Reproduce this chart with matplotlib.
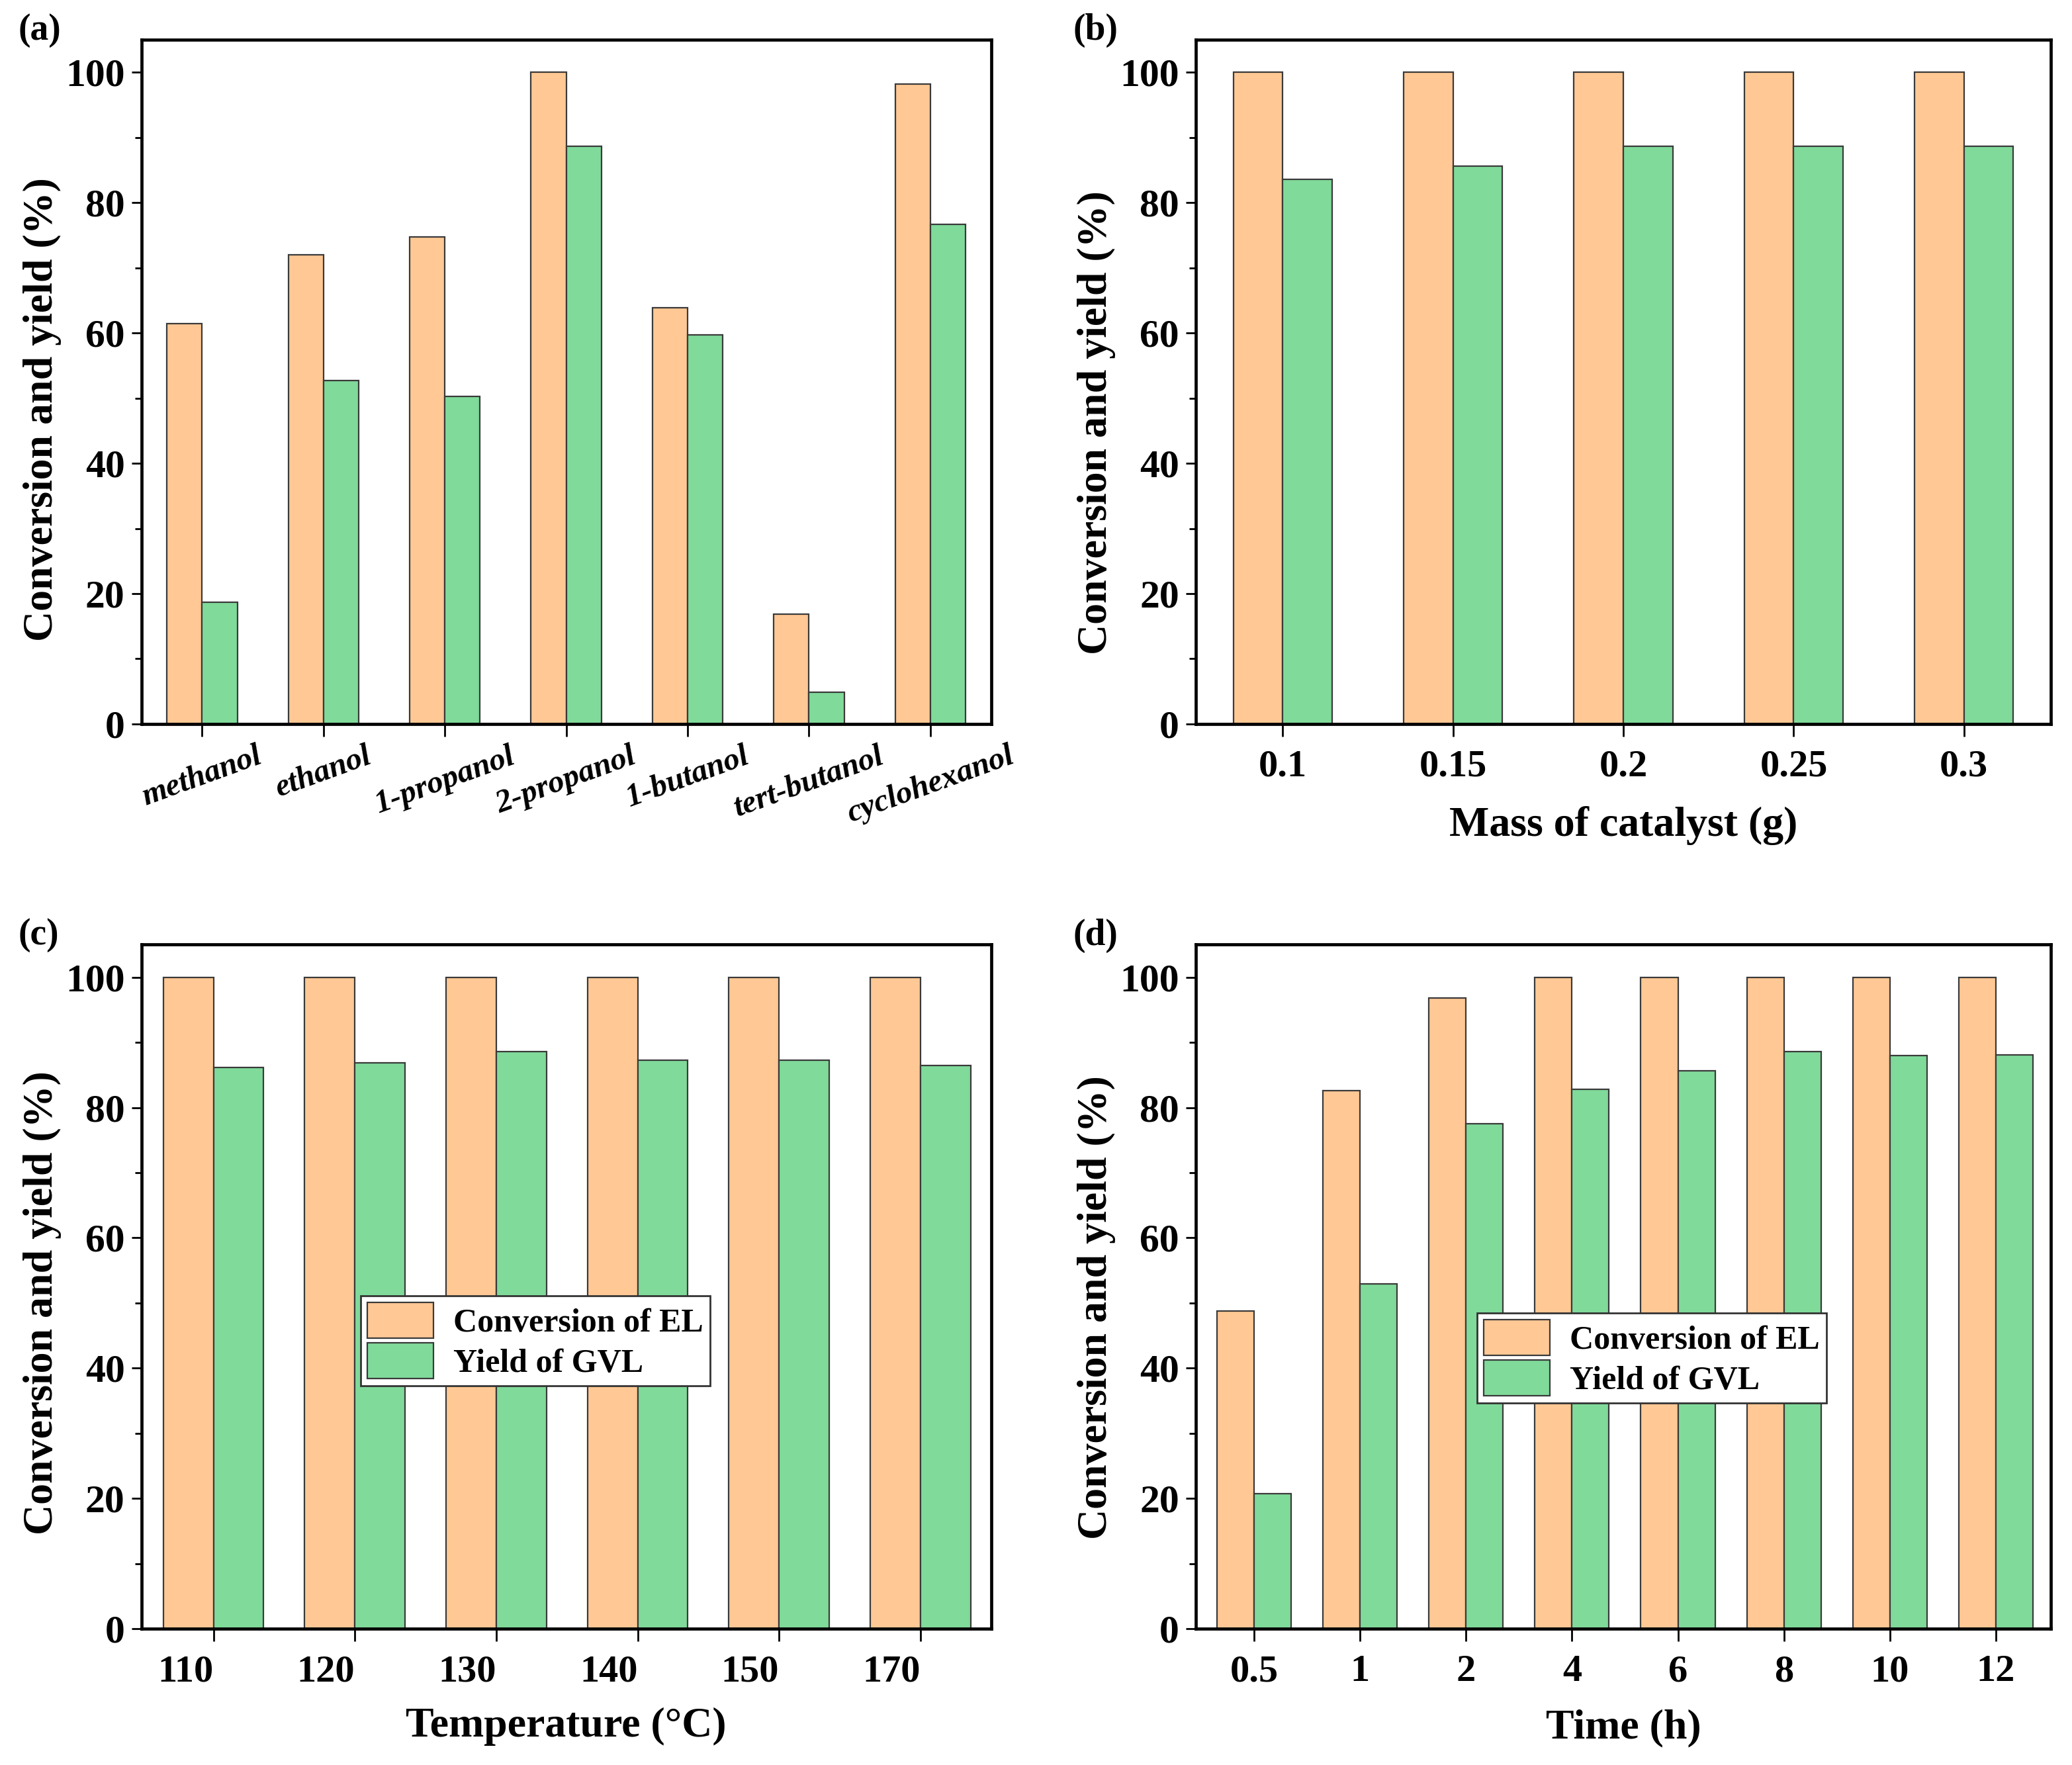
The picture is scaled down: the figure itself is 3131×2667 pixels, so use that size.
import matplotlib
matplotlib.use("Agg")
import matplotlib.pyplot as plt
from matplotlib.ticker import MultipleLocator
import numpy as np

plt.rcParams['font.family'] = ['Liberation Serif', 'DejaVu Serif']
plt.rcParams['font.weight'] = 'bold'

ORANGE = '#FFC894'
GREEN = '#80DA9A'
EDGE = '#3a3a3a'

# (a) solvent
solvents = ['methanol', 'ethanol', '1-propanol', '2-propanol', '1-butanol', 'tert-butanol', 'cyclohexanol']
conv_a = [61.4, 72.0, 74.7, 100.0, 63.9, 16.9, 98.2]
yield_a = [18.7, 52.7, 50.3, 88.6, 59.7, 4.9, 76.7]

# (b) mass of catalyst
masses = ['0.1', '0.15', '0.2', '0.25', '0.3']
conv_b = [100.0, 100.0, 100.0, 100.0, 100.0]
yield_b = [83.6, 85.6, 88.6, 88.6, 88.6]

# (c) temperature
temps = ['110', '120', '130', '140', '150', '170']
conv_c = [100.0, 100.0, 100.0, 100.0, 100.0, 100.0]
yield_c = [86.1, 86.9, 88.6, 87.3, 87.3, 86.5]

# (d) time
times = ['0.5', '1', '2', '4', '6', '8', '10', '12']
conv_d = [48.8, 82.6, 96.8, 100.0, 100.0, 100.0, 100.0, 100.0]
yield_d = [20.8, 52.9, 77.5, 82.8, 85.6, 88.6, 88.0, 88.1]

fig = plt.figure(figsize=(31.31, 26.67), dpi=100)

W, H = 1568.0, 1336.0
def box(l, r, t, b):
    return [l / W, 1 - b / H, (r - l) / W, (b - t) / H]

ax_a = fig.add_axes(box(107, 750, 30, 548))
ax_b = fig.add_axes(box(905, 1552, 30, 548))
ax_c = fig.add_axes(box(107, 750, 715, 1233))
ax_d = fig.add_axes(box(905, 1552, 715, 1233))


def draw(ax, labels, conv, yld, width, xlim, ylab_y=0.5):
    x = np.arange(len(labels))
    b1 = ax.bar(x - width / 2, conv, width, color=ORANGE, edgecolor=EDGE, linewidth=1.6,
                label='Conversion of EL')
    b2 = ax.bar(x + width / 2, yld, width, color=GREEN, edgecolor=EDGE, linewidth=1.6,
                label='Yield of GVL')
    ax.set_xlim(*xlim)
    ax.set_ylim(0, 105)
    ax.set_xticks(x)
    ax.yaxis.set_major_locator(MultipleLocator(20))
    ax.yaxis.set_minor_locator(MultipleLocator(10))
    ax.tick_params(axis='y', which='major', direction='out', length=11, width=2, labelsize=43, pad=7)
    ax.tick_params(axis='y', which='minor', direction='out', length=7, width=2)
    ax.tick_params(axis='x', which='major', direction='out', length=14, width=2, labelsize=42, pad=14)
    ax.tick_params(axis='x', which='minor', bottom=False)
    for s in ax.spines.values():
        s.set_linewidth(3.4)
    for t in ax.get_yticklabels():
        t.set_fontweight('bold')
    ax.set_ylabel('Conversion and yield (%)', fontsize=46, fontweight='bold')
    ax.yaxis.set_label_coords(-0.094, ylab_y)
    return b1, b2


def add_legend(ax, anchor):
    leg = ax.legend(loc='upper left', bbox_to_anchor=anchor, fontsize=36, frameon=True,
                    fancybox=False, edgecolor='#333333', framealpha=1, handlelength=2.0,
                    handleheight=1.3, borderpad=0.2, labelspacing=0.12, handletextpad=0.6,
                    borderaxespad=0)
    leg.get_frame().set_linewidth(2)
    return leg


draw(ax_a, solvents, conv_a, yield_a, 0.29, (-0.5, 6.5), ylab_y=0.46)
ax_a.set_xticklabels(solvents, rotation=20, ha='center', fontsize=35, fontstyle='italic',
                     fontweight='bold')
ax_a.tick_params(axis='x', pad=5)

draw(ax_b, masses, conv_b, yield_b, 0.29, (-0.51, 4.51), ylab_y=0.44)
ax_b.set_xticklabels(masses, fontsize=42, fontweight='bold')
ax_b.set_xlabel('Mass of catalyst (g)', fontsize=46, fontweight='bold', labelpad=24)

draw(ax_c, temps, conv_c, yield_c, 0.355, (-0.51, 5.5), ylab_y=0.477)
ax_c.set_xticklabels(temps, fontsize=42, fontweight='bold', ha='right')
ax_c.set_xlabel('Temperature (\u00b0C)', fontsize=46, fontweight='bold', labelpad=20)
add_legend(ax_c, (0.258, 0.487))

draw(ax_d, times, conv_d, yield_d, 0.35, (-0.55, 7.52), ylab_y=0.47)
ax_d.set_xticklabels(times, fontsize=42, fontweight='bold')
ax_d.set_xlabel('Time (h)', fontsize=46, fontweight='bold', labelpad=22)
add_legend(ax_d, (0.329, 0.462))

for lab, (px, py) in zip(['(a)', '(b)', '(c)', '(d)'],
                         [(14, 10), (812, 10), (14, 695), (812, 695)]):
    fig.text(px / W, 1 - py / H, lab, fontsize=40, fontweight='bold', ha='left', va='top')

fig.savefig('out.png', dpi=100)
